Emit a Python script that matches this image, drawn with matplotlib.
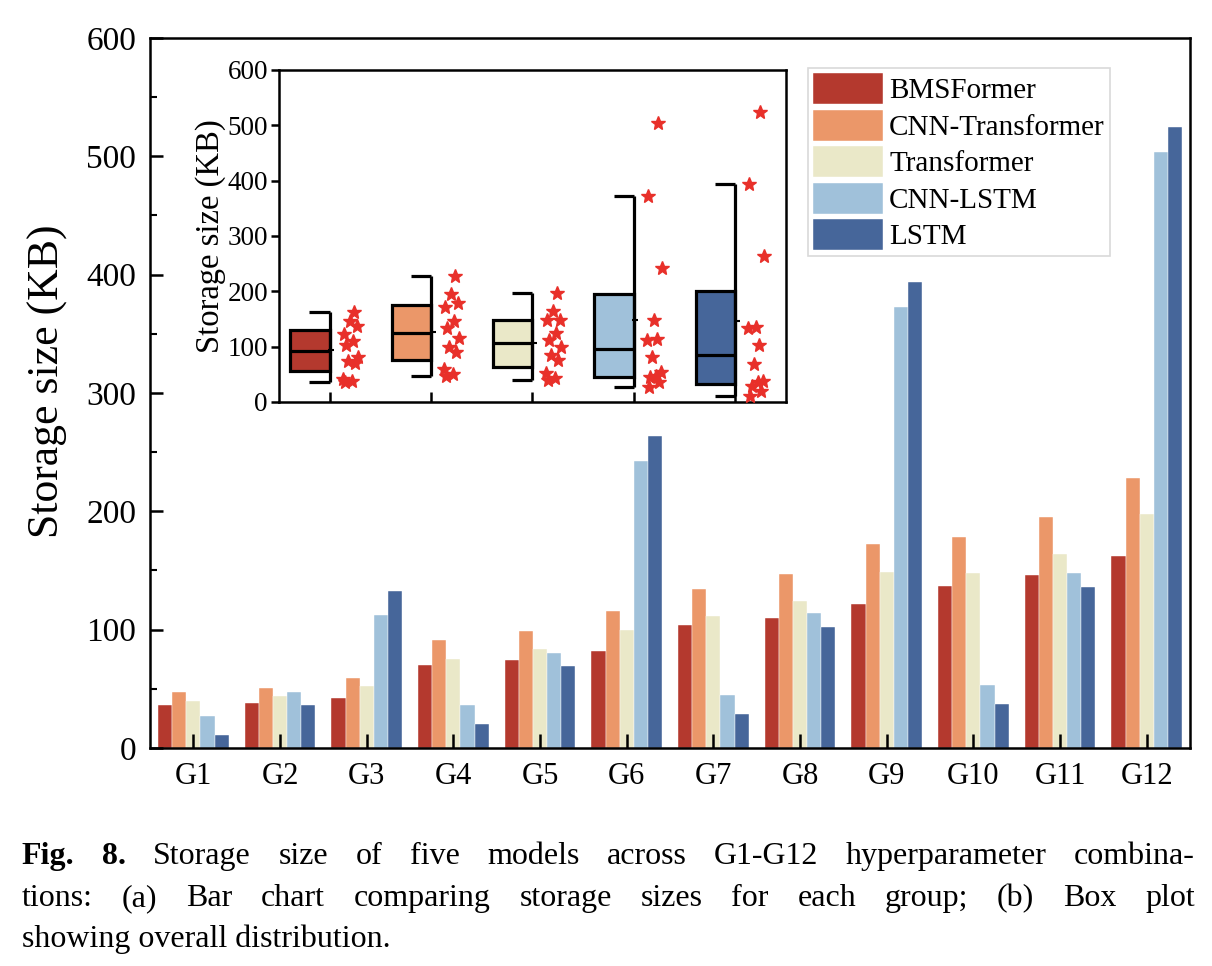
import numpy as np
import matplotlib
matplotlib.use('Agg')
import matplotlib.pyplot as plt
from matplotlib.ticker import MultipleLocator

plt.rcParams['font.family'] = ['Liberation Serif', 'DejaVu Serif']

groups = ['G1', 'G2', 'G3', 'G4', 'G5', 'G6', 'G7', 'G8', 'G9', 'G10', 'G11', 'G12']
models = ['BMSFormer', 'CNN-Transformer', 'Transformer', 'CNN-LSTM', 'LSTM']
colors = ['#B4392E', '#EB9769', '#EAE8C8', '#A0C1DA', '#46669A']

bmsformer = [36, 38, 42, 70, 74, 82, 103.5, 110, 122, 137, 146, 162]
cnn_transformer = [47, 51, 59, 91, 99, 115.5, 134.5, 147, 172, 178.5, 195, 228]
transformer = [39.5, 43.5, 52, 75.5, 84, 100, 111.5, 124, 148.5, 148, 164, 197.5]
cnn_lstm = [27, 47, 112, 36, 80.5, 242.5, 44.5, 114, 373, 53.5, 147.5, 503.5]
lstm = [11, 36, 133, 20, 69, 264, 28.5, 102.5, 394, 37.5, 136, 524.5]
series = [bmsformer, cnn_transformer, transformer, cnn_lstm, lstm]

# fixed horizontal spread of the star markers next to each box
star_offsets = [0.15, 0.22, 0.13, 0.25, 0.18, 0.28, 0.16, 0.23, 0.14, 0.27, 0.20, 0.24]

caption_lines = [
    ['Fig.', '8.', 'Storage', 'size', 'of', 'five', 'models', 'across', 'G1-G12',
     'hyperparameter', 'combina-'],
    ['tions:', '(a)', 'Bar', 'chart', 'comparing', 'storage', 'sizes', 'for', 'each',
     'group;', '(b)', 'Box', 'plot'],
    ['showing overall distribution.'],
]

fig = plt.figure(figsize=(12.12, 9.66), dpi=100)

# ---- main bar chart ----
ax = fig.add_axes([0.1238, 0.2257, 0.8581, 0.7350])
x = np.arange(1, len(groups) + 1)
w = 0.163
for i, (vals, name, c) in enumerate(zip(series, models, colors)):
    ax.bar(x + (i - 2) * w, vals, w, color=c, label=name,
           edgecolor='white', linewidth=0.3)

ax.set_xlim(0.5, 12.5)
ax.set_ylim(0, 600)
ax.set_xticks(x)
ax.set_xticklabels(groups, fontsize=22)
ax.yaxis.set_major_locator(MultipleLocator(100))
ax.yaxis.set_minor_locator(MultipleLocator(50))
ax.tick_params(axis='y', labelsize=24, direction='in', length=9, width=1.8, pad=10)
ax.tick_params(axis='y', which='minor', direction='in', length=5, width=1.5)
ax.tick_params(axis='x', direction='in', length=10, width=1.8, pad=10)
ax.set_ylabel('Storage size (KB)', fontsize=31.5)
ax.yaxis.set_label_coords(-0.079, 0.517)
for s in ax.spines.values():
    s.set_linewidth(1.8)

leg = ax.legend(loc='upper left', bbox_to_anchor=(0.6667, 0.9296),
                bbox_transform=fig.transFigure, fontsize=21, frameon=True,
                fancybox=False, edgecolor='#D0D0D0', handlelength=2.4,
                handleheight=1.25, labelspacing=0.18, handletextpad=0.2,
                borderpad=0.18, borderaxespad=0)
leg.get_frame().set_linewidth(1.2)

# ---- inset box plot ----
ins = fig.add_axes([0.2302, 0.5839, 0.4183, 0.3437])
pos = np.arange(1, len(models) + 1)
box_w = 0.39
cap_w = 0.2
for p, vals, c in zip(pos, series, colors):
    v = np.sort(np.array(vals, dtype=float))
    q1, med, q3 = np.percentile(v, [25, 50, 75], method='hazen')
    iqr = q3 - q1
    lo = v[v >= q1 - 1.5 * iqr].min()
    hi = v[v <= q3 + 1.5 * iqr].max()
    ins.bar(p - box_w, q3 - q1, box_w, bottom=q1, align='edge', color=c,
            edgecolor='black', linewidth=2.3, zorder=2)
    ins.hlines(med, p - box_w, p, color='black', linewidth=2.3, zorder=3)
    ins.vlines(p, lo, hi, color='black', linewidth=2.3, zorder=3)
    ins.hlines([lo, hi], p - cap_w, p, color='black', linewidth=2.3, zorder=3)
    ins.plot(p + 0.015, np.mean(v), marker='_', color='black', markersize=5,
             markeredgewidth=1.5, zorder=4)
    ins.plot(p + np.array(star_offsets), vals, linestyle='none', marker='*',
             color='#E8302A', markersize=10.5, zorder=4)

ins.set_xlim(0.5, 5.5)
ins.set_ylim(0, 600)
ins.set_xticks(pos)
ins.set_xticklabels([])
ins.set_yticks(np.arange(0, 601, 100))
ins.tick_params(axis='x', direction='in', length=7, width=1.8)
ins.tick_params(axis='y', direction='out', length=6, width=1.8, labelsize=19.5, pad=2)
ins.set_ylabel('Storage size (KB)', fontsize=23.5, labelpad=1)
for s in ins.spines.values():
    s.set_linewidth(1.8)

# ---- caption (justified lines) ----
renderer = fig.canvas.get_renderer()
cap_size = 23
line_y = [0.1056, 0.0621, 0.0197]
x0, x1 = 0.018, 0.986
for k, (words, y) in enumerate(zip(caption_lines, line_y)):
    texts = []
    for j, word in enumerate(words):
        bold = (k == 0 and j < 2)
        texts.append(fig.text(x0, y, word, fontsize=cap_size, va='baseline',
                              fontweight='bold' if bold else 'normal'))
    if len(words) > 1:
        widths = [t.get_window_extent(renderer).width / fig.bbox.width for t in texts]
        gap = (x1 - x0 - sum(widths)) / (len(words) - 1)
        xx = x0
        for t, wd in zip(texts, widths):
            t.set_x(xx)
            xx += wd + gap

fig.savefig('out.png', dpi=100)
